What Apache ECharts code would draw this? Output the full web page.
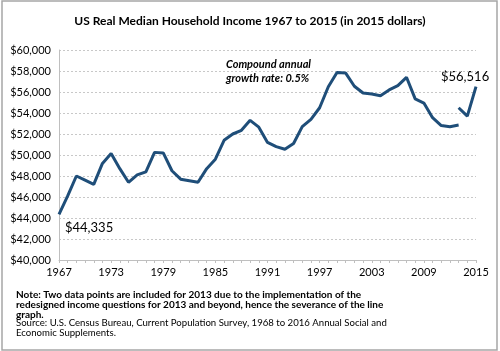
<!DOCTYPE html>
<html>
<head>
<meta charset="utf-8">
<script src="https://cdn.jsdelivr.net/npm/echarts@6/dist/echarts.min.js"></script>
<style>
  html, body { margin: 0; padding: 0; background: #fff; }
  #chart { width: 500px; height: 351px; }
</style>
</head>
<body>
<div id="chart"></div>
<script>
// years on the x axis
var years = [];
for (var y = 1967; y <= 2015; y++) years.push(String(y));

// old income questions, 1967 - 2013
var incomeOld = [
  44335, 46100, 48000, 47600, 47200, 49200, 50150, 48700, 47400, 48100,
  48400, 50250, 50200, 48500, 47700, 47550, 47400, 48700, 49600, 51400,
  52000, 52350, 53300, 52650, 51200, 50800, 50550, 51100, 52700, 53400,
  54500, 56500, 57850, 57800, 56550, 55900, 55800, 55650, 56200, 56600,
  57400, 55350, 54950, 53550, 52800, 52700, 52850
];
// redesigned questions, 2013 - 2015
var incomeNew = [54500, 53700, 56516];

var yTicks = [40000, 42000, 44000, 46000, 48000, 50000, 52000, 54000, 56000, 58000, 60000];

var seriesOld = years.map(function (yr, i) { return i < incomeOld.length ? incomeOld[i] : null; });
var seriesNew = years.map(function (yr, i) {
  var k = i - (incomeOld.length - 1);
  return k >= 0 ? incomeNew[k] : null;
});

var font = 'Lato, "Open Sans", sans-serif';
var lineColor = '#1F4E79';

var chart = echarts.init(document.getElementById('chart'));
chart.setOption({
  animation: false,
  textStyle: { fontFamily: font },
  title: {
    text: 'US Real Median Household Income 1967 to 2015 (in 2015 dollars)',
    left: 'center',
    top: 10,
    textStyle: { fontFamily: font, fontSize: 12, fontWeight: 'bold', color: '#000' }
  },
  grid: { left: 59, right: 24, top: 50, bottom: 91 },
  xAxis: {
    type: 'category',
    data: years,
    boundaryGap: false,
    axisLine: { lineStyle: { color: '#bfbfbf', width: 1 } },
    axisTick: { show: true, interval: 0, length: 3, lineStyle: { color: '#bfbfbf' } },
    axisLabel: { interval: 5, color: '#000', fontSize: 11, fontFamily: font, margin: 7 },
    splitLine: { show: false }
  },
  yAxis: {
    type: 'value',
    min: yTicks[0],
    max: yTicks[yTicks.length - 1],
    interval: 2000,
    axisLine: { show: true, lineStyle: { color: '#bfbfbf', width: 1 } },
    axisTick: { show: false },
    axisLabel: {
      color: '#000', fontSize: 11, fontFamily: font, margin: 8,
      formatter: function (v) { return '$' + v.toLocaleString('en-US'); }
    },
    splitLine: { show: true, lineStyle: { color: '#c8c8c8', type: [2, 2], width: 1 } }
  },
  series: [
    {
      type: 'line', data: seriesOld, symbol: 'none', connectNulls: false,
      lineStyle: { color: lineColor, width: 3 }
    },
    {
      type: 'line', data: seriesNew, symbol: 'none', connectNulls: false,
      lineStyle: { color: lineColor, width: 3 }
    }
  ],
  graphic: [
    {
      type: 'rect', shape: { x: 2, y: 1, width: 495, height: 349 },
      style: { fill: 'none', stroke: '#a6a6a6', lineWidth: 1.5 }, silent: true
    },
    {
      type: 'text', left: 226, top: 57,
      style: {
        text: 'Compound annual\ngrowth rate: 0.5%', fontFamily: font, fontSize: 11,
        fontWeight: 'bold', fontStyle: 'italic', fill: '#000', lineHeight: 14, align: 'center',
        x: 45
      }
    },
    {
      type: 'text', left: 65, top: 221,
      style: { text: '$44,335', fontFamily: font, fontSize: 13, fill: '#000' }
    },
    {
      type: 'text', left: 441, top: 70,
      style: { text: '$56,516', fontFamily: font, fontSize: 13, fill: '#000' }
    },
    {
      type: 'text', left: 16, top: 290,
      style: {
        text: 'Note: Two data points are included for 2013 due to the implementation of the\nredesigned income questions for 2013 and beyond, hence the severance of the line\ngraph.',
        fontFamily: font, fontSize: 10, fontWeight: 'bold', fill: '#000', lineHeight: 9.7
      }
    },
    {
      type: 'text', left: 16, top: 318,
      style: {
        text: 'Source: U.S. Census Bureau, Current Population Survey, 1968 to 2016 Annual Social and\nEconomic Supplements.',
        fontFamily: font, fontSize: 9.6, fill: '#000', lineHeight: 10
      }
    }
  ]
});
</script>
</body>
</html>
